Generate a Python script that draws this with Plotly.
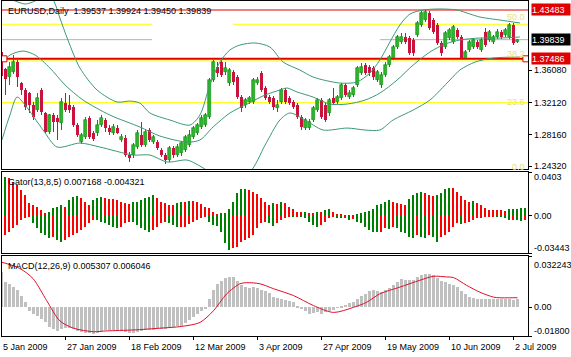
import plotly.graph_objects as go

# ---------------- data ----------------
date_labels = ["5 Jan 2009", "27 Jan 2009", "18 Feb 2009", "12 Mar 2009", "3 Apr 2009",
               "27 Apr 2009", "19 May 2009", "10 Jun 2009", "2 Jul 2009"]
date_bars = [0, 16, 32, 48, 64, 80, 96, 112, 128]

opens = [1.3832, 1.3623, 1.3525, 1.3586, 1.3709, 1.3451, 1.3365, 1.3328, 1.3181, 1.3119,
         1.3365, 1.3083, 1.2849, 1.3058, 1.3021, 1.2960, 1.3205, 1.3181, 1.3156, 1.2935,
         1.2726, 1.2788, 1.3021, 1.2837, 1.2837, 1.2935, 1.2997, 1.2898, 1.2837, 1.2898,
         1.2751, 1.2775, 1.2567, 1.2567, 1.2665, 1.2812, 1.2689, 1.2874, 1.2726, 1.2726,
         1.2628, 1.2567, 1.2505, 1.2653, 1.2567, 1.2591, 1.2628, 1.2689, 1.2788, 1.2837,
         1.2911, 1.2935, 1.3033, 1.3488, 1.3648, 1.3709, 1.3586, 1.3451, 1.3586, 1.3525,
         1.3279, 1.3181, 1.3218, 1.3218, 1.3451, 1.3574, 1.3390, 1.3279, 1.3267, 1.3144,
         1.3218, 1.3365, 1.3267, 1.3218, 1.3181, 1.3033, 1.2898, 1.2898, 1.2997, 1.3119,
         1.3242, 1.3181, 1.3083, 1.3267, 1.3218, 1.3267, 1.3427, 1.3279, 1.3304, 1.3427,
         1.3574, 1.3672, 1.3648, 1.3636, 1.3488, 1.3427, 1.3550, 1.3672, 1.3758, 1.3894,
         1.3955, 1.4017, 1.4004, 1.3980, 1.4041, 1.4164, 1.4225, 1.4311, 1.4225, 1.4164,
         1.3943, 1.3894, 1.4004, 1.3955, 1.4103, 1.4017, 1.3758, 1.3857, 1.3894, 1.3955,
         1.3857, 1.4078, 1.3980, 1.3955, 1.4017, 1.4078, 1.4041, 1.4017, 1.4164, 1.39537]
highs = [1.3955, 1.3636, 1.3709, 1.3795, 1.3734, 1.3464, 1.3390, 1.3341, 1.3218, 1.3328,
         1.3390, 1.3095, 1.3070, 1.3083, 1.3058, 1.3267, 1.3328, 1.3304, 1.3181, 1.2960,
         1.2837, 1.3033, 1.3046, 1.2861, 1.2997, 1.3058, 1.3021, 1.2935, 1.2947, 1.2935,
         1.2825, 1.2812, 1.2603, 1.2714, 1.2874, 1.2972, 1.2874, 1.2898, 1.2812, 1.2751,
         1.2653, 1.2591, 1.2677, 1.2677, 1.2702, 1.2739, 1.2812, 1.2874, 1.2923, 1.2960,
         1.3058, 1.3083, 1.3513, 1.3734, 1.3709, 1.3734, 1.3709, 1.3636, 1.3611, 1.3550,
         1.3304, 1.3267, 1.3292, 1.3513, 1.3525, 1.3599, 1.3414, 1.3304, 1.3292, 1.3242,
         1.3390, 1.3390, 1.3292, 1.3242, 1.3205, 1.3058, 1.3021, 1.3009, 1.3169, 1.3267,
         1.3267, 1.3205, 1.3267, 1.3390, 1.3304, 1.3451, 1.3451, 1.3365, 1.3414, 1.3660,
         1.3697, 1.3697, 1.3672, 1.3660, 1.3611, 1.3586, 1.3709, 1.3795, 1.3918, 1.4041,
         1.4066, 1.4066, 1.4029, 1.4004, 1.4213, 1.4336, 1.43483, 1.4330, 1.4250, 1.4189,
         1.3967, 1.4090, 1.4127, 1.4164, 1.4127, 1.4041, 1.3857, 1.3980, 1.4004, 1.3980,
         1.4004, 1.4127, 1.4103, 1.4041, 1.4115, 1.4103, 1.4127, 1.4189, 1.4189, 1.39924]
lows = [1.3390, 1.3304, 1.3427, 1.3562, 1.3402, 1.3304, 1.3119, 1.3083, 1.2997, 1.3095,
        1.3058, 1.2837, 1.2825, 1.2849, 1.2751, 1.2874, 1.3095, 1.3083, 1.2911, 1.2788,
        1.2702, 1.2763, 1.2763, 1.2739, 1.2800, 1.2911, 1.2849, 1.2812, 1.2812, 1.2825,
        1.2726, 1.2542, 1.2481, 1.2530, 1.2640, 1.2665, 1.2665, 1.2726, 1.2702, 1.2628,
        1.2542, 1.2456, 1.2481, 1.2530, 1.2542, 1.2554, 1.2603, 1.2665, 1.2763, 1.2812,
        1.2886, 1.2911, 1.3009, 1.3464, 1.3525, 1.3525, 1.3550, 1.3414, 1.3427, 1.3255,
        1.3095, 1.3144, 1.3193, 1.3193, 1.3427, 1.3341, 1.3242, 1.3193, 1.3119, 1.3095,
        1.3193, 1.3193, 1.3181, 1.3132, 1.3009, 1.2874, 1.2874, 1.2874, 1.2972, 1.3095,
        1.3009, 1.2972, 1.3046, 1.3181, 1.3193, 1.3242, 1.3279, 1.3255, 1.3279, 1.3402,
        1.3550, 1.3550, 1.3537, 1.3488, 1.3464, 1.3390, 1.3525, 1.3648, 1.3734, 1.3869,
        1.3930, 1.3930, 1.3795, 1.3783, 1.4017, 1.4139, 1.4201, 1.4103, 1.4053, 1.3918,
        1.3783, 1.3869, 1.3980, 1.3930, 1.3992, 1.37486, 1.3752, 1.3832, 1.3869, 1.3869,
        1.3832, 1.3894, 1.3955, 1.3930, 1.3992, 1.3992, 1.4017, 1.3992, 1.3918, 1.39450]
closes = [1.3537, 1.3500, 1.3648, 1.3709, 1.3525, 1.3365, 1.3156, 1.3181, 1.3033, 1.3267,
          1.3095, 1.2849, 1.3058, 1.2972, 1.2972, 1.3218, 1.3119, 1.3119, 1.2935, 1.2812,
          1.2812, 1.2997, 1.2788, 1.2763, 1.2935, 1.3021, 1.2898, 1.2849, 1.2911, 1.2837,
          1.2788, 1.2567, 1.2530, 1.2689, 1.2837, 1.2689, 1.2849, 1.2751, 1.2788, 1.2653,
          1.2567, 1.2505, 1.2653, 1.2567, 1.2665, 1.2714, 1.2788, 1.2812, 1.2898, 1.2935,
          1.3021, 1.3058, 1.3488, 1.3709, 1.3574, 1.3550, 1.3636, 1.3611, 1.3464, 1.3279,
          1.3144, 1.3242, 1.3267, 1.3488, 1.3488, 1.3365, 1.3267, 1.3218, 1.3156, 1.3181,
          1.3365, 1.3218, 1.3205, 1.3156, 1.3033, 1.2911, 1.2997, 1.2972, 1.3144, 1.3242,
          1.3033, 1.2997, 1.3242, 1.3205, 1.3279, 1.3427, 1.3304, 1.3328, 1.3390, 1.3636,
          1.3648, 1.3574, 1.3574, 1.3525, 1.3586, 1.3550, 1.3672, 1.3771, 1.3894, 1.4017,
          1.4017, 1.3955, 1.3820, 1.3820, 1.4189, 1.4311, 1.4324, 1.4127, 1.4078, 1.3943,
          1.3820, 1.4066, 1.4103, 1.4139, 1.4017, 1.3758, 1.3832, 1.3955, 1.3980, 1.3894,
          1.3980, 1.3918, 1.4078, 1.4017, 1.4078, 1.4017, 1.4103, 1.4164, 1.3943, 1.39839]

# Bollinger bands, read at sample bars
bb_up_x = [0.9, 3.4, 5.9, 8.4, 10.9, 12.9, 14.6, 16.6, 19.6, 23.9, 28.9, 32.1, 34.6, 37.1, 42.1,
           47.1, 49.6, 52.1, 54.6, 57.1, 59.6, 63.4, 67.1, 70.4, 74.6, 77.9, 84.6, 88.9, 92.1,
           94.6, 97.1, 99.6, 102.1, 105.4, 109.6, 113.9, 117.1, 119.6, 124.6, 129.6]
bb_up_v = [1.4508, 1.4459, 1.4422, 1.4459, 1.4545, 1.4471, 1.4250, 1.3980, 1.3636, 1.3365,
           1.3218, 1.3230, 1.3205, 1.3083, 1.2997, 1.2935, 1.3058, 1.3427, 1.3709, 1.3857,
           1.3918, 1.3943, 1.3894, 1.3709, 1.3611, 1.3525, 1.3451, 1.3464, 1.3574, 1.3734,
           1.3955, 1.4164, 1.4299, 1.4348, 1.4361, 1.4348, 1.4299, 1.4262, 1.4225, 1.4189]
bb_md_x = [0.4, 2.1, 5.4, 8.4, 12.1, 15.9, 20.4, 27.1, 34.6, 39.6, 46.4, 49.6, 52.9, 57.1, 61.4,
           65.9, 69.6, 71.4, 73.9, 77.9, 82.1, 86.4, 90.9, 94.6, 98.9, 102.9, 107.1, 110.9,
           114.6, 119.6, 124.6, 129.6]
bb_md_v = [1.3709, 1.3795, 1.3844, 1.3795, 1.3636, 1.3427, 1.3242, 1.3058, 1.2911, 1.2800,
           1.2726, 1.2751, 1.2911, 1.3083, 1.3193, 1.3304, 1.3365, 1.3390, 1.3341, 1.3279,
           1.3193, 1.3193, 1.3242, 1.3328, 1.3488, 1.3672, 1.3832, 1.3930, 1.3980, 1.4004,
           1.4004, 1.4017]
bb_lo_x = [0.1, 2.1, 3.9, 5.9, 10.4, 13.9, 19.6, 24.6, 32.9, 37.1, 41.4, 46.4, 49.6, 52.1, 57.1,
           62.1, 65.9, 69.6, 72.1, 75.9, 80.4, 86.4, 90.9, 94.6, 97.9, 102.9, 107.1, 112.1,
           114.6, 118.4, 122.9, 129.6]
bb_lo_v = [1.2751, 1.3058, 1.3279, 1.3181, 1.2874, 1.2665, 1.2714, 1.2665, 1.2567, 1.2567,
           1.2481, 1.2505, 1.2432, 1.2358, 1.2260, 1.2358, 1.2689, 1.2997, 1.3083, 1.2997,
           1.2874, 1.2898, 1.2874, 1.2874, 1.2997, 1.3119, 1.3242, 1.3488, 1.3611, 1.3709,
           1.3758, 1.3771]

# Gator oscillator (13,8,5)
gator_up = [0.0299, 0.0360, 0.0345, 0.0314, 0.0283, 0.0237, 0.0191, 0.0114, 0.0099, 0.0083,
            0.0053, 0.0022, 0.0037, 0.0068, 0.0083, 0.0099, 0.0083, 0.0145, 0.0175, 0.0180,
            0.0161, 0.0129, 0.0099, 0.0145, 0.0161, 0.0175, 0.0161, 0.0158, 0.0155, 0.0145,
            0.0129, 0.0114, 0.0112, 0.0129, 0.0130, 0.0145, 0.0161, 0.0175, 0.0191, 0.0161,
            0.0129, 0.0114, 0.0099, 0.0099, 0.0114, 0.0129, 0.0125, 0.0137, 0.0135, 0.0125,
            0.0106, 0.0083, 0.0068, 0.0037, 0.0012, 0.0022, 0.0025, 0.0059, 0.0129, 0.0206,
            0.0247, 0.0250, 0.0237, 0.0222, 0.0200, 0.0160, 0.0129, 0.0099, 0.0114, 0.0110,
            0.0129, 0.0114, 0.0083, 0.0062, 0.0037, 0.0034, 0.0035, 0.0028, 0.0022, 0.0037,
            0.0036, 0.0053, 0.0059, 0.0037, 0.0015, 0.0012, 0.0006, 0.0002, 0.0003, 0.0015,
            0.0028, 0.0037, 0.0046, 0.0059, 0.0099, 0.0105, 0.0129, 0.0145, 0.0129, 0.0114,
            0.0110, 0.0099, 0.0151, 0.0191, 0.0206, 0.0222, 0.0213, 0.0191, 0.0185, 0.0191,
            0.0213, 0.0247, 0.0259, 0.0253, 0.0222, 0.0180, 0.0145, 0.0129, 0.0132, 0.0114,
            0.0099, 0.0068, 0.0053, 0.0050, 0.0049, 0.0048, 0.0047, 0.0059, 0.0060, 0.0062,
            0.0068, 0.007168]
gator_dn = [-0.0270, -0.0178, -0.0148, -0.0116, -0.0086, -0.0040, -0.0024, -0.0009, -0.0070, -0.0116,
            -0.0163, -0.0178, -0.0209, -0.0194, -0.0224, -0.0240, -0.0224, -0.0194, -0.0178, -0.0163,
            -0.0132, -0.0101, -0.0070, -0.0040, -0.0042, -0.0055, -0.0070, -0.0086, -0.0101, -0.0116,
            -0.0101, -0.0070, -0.0055, -0.0056, -0.0086, -0.0116, -0.0132, -0.0148, -0.0132, -0.0101,
            -0.0070, -0.0055, -0.0070, -0.0086, -0.0101, -0.0101, -0.0101, -0.0077, -0.0055, -0.0040,
            -0.0024, -0.0009, -0.0055, -0.0086, -0.0095, -0.0148, -0.0256, -0.0318, -0.0302, -0.0287,
            -0.0240, -0.0224, -0.0209, -0.0178, -0.0116, -0.0070, -0.0055, -0.0070, -0.0095, -0.0070,
            -0.0040, -0.0024, -0.0009, -0.0010, -0.0003, -0.0005, -0.0024, -0.0055, -0.0086, -0.0101,
            -0.0086, -0.0055, -0.0024, -0.0009, -0.0024, -0.0025, -0.0024, -0.0040, -0.0033, -0.0055,
            -0.0070, -0.0101, -0.0132, -0.0148, -0.0150, -0.0148, -0.0116, -0.0126, -0.0107, -0.0116,
            -0.0148, -0.0163, -0.0194, -0.0209, -0.0178, -0.0194, -0.0209, -0.0178, -0.0200, -0.0240,
            -0.0194, -0.0178, -0.0148, -0.0101, -0.0070, -0.0075, -0.0070, -0.0055, -0.0040, -0.0024,
            -0.0024, -0.0009, -0.0009, -0.0003, -0.0009, -0.0015, -0.0024, -0.0040, -0.0040, -0.0041,
            -0.0046, -0.004321]

# MACD (12,26,9)
macd_main = [0.0223, 0.0159, 0.0148, 0.0127, 0.0106, 0.0074, 0.0032, -0.0021, -0.0042, -0.0053,
             -0.0074, -0.0095, -0.0123, -0.0138, -0.0148, -0.0138, -0.0127, -0.0131, -0.0138, -0.0148,
             -0.0155, -0.0159, -0.0159, -0.0165, -0.0159, -0.0148, -0.0144, -0.0142, -0.0140, -0.0144,
             -0.0148, -0.0155, -0.0163, -0.0163, -0.0155, -0.0148, -0.0144, -0.0140, -0.0140, -0.0138,
             -0.0138, -0.0134, -0.0131, -0.0123, -0.0117, -0.0117, -0.0100, -0.0082, -0.0062, -0.0042,
             -0.0025, -0.0011, 0.0053, 0.0106, 0.0148, 0.0165, 0.0184, 0.0191, 0.0191, 0.0165,
             0.0138, 0.0127, 0.0123, 0.0127, 0.0123, 0.0110, 0.0102, 0.0089, 0.0068, 0.0057,
             0.0053, 0.0047, 0.0038, 0.0032, 0.0011, -0.0011, -0.0021, -0.0042, -0.0038, -0.0032,
             -0.0042, -0.0032, -0.0021, -0.0017, -0.0004, 0.0011, 0.0017, 0.0025, 0.0032, 0.0053,
             0.0074, 0.0085, 0.0102, 0.0106, 0.0102, 0.0098, 0.0106, 0.0123, 0.0138, 0.0159,
             0.0180, 0.0170, 0.0170, 0.0174, 0.0191, 0.0201, 0.0212, 0.0208, 0.0201, 0.0185,
             0.0165, 0.0159, 0.0148, 0.0138, 0.0127, 0.0102, 0.0085, 0.0068, 0.0059, 0.0053,
             0.0051, 0.0053, 0.0053, 0.0051, 0.0053, 0.0053, 0.0051, 0.0053, 0.0049, 0.005307]
sig_x = [0, 4.6, 7.9, 11.3, 14.6, 18, 23, 26.3, 33, 39.6, 45, 49.6, 53, 56.3, 59.6, 61.3, 64.6,
         68, 73, 78, 83, 88, 91.3, 94.6, 99.6, 104.6, 108, 111.3, 113, 116.3, 119.6, 123, 124.6,
         127, 129]
sig_v = [0.0284, 0.0244, 0.0180, 0.0042, -0.0085, -0.0131, -0.0153, -0.0148, -0.0142, -0.0131,
         -0.0120, -0.0095, -0.0021, 0.0085, 0.0148, 0.0155, 0.0148, 0.0117, 0.0074, 0.0011,
         -0.0032, 0.0000, 0.0032, 0.0085, 0.0127, 0.0170, 0.0195, 0.0191, 0.0187, 0.0138,
         0.0095, 0.0064, 0.0060, 0.0060, 0.006046]

price_ticks = [1.36080, 1.32120, 1.28160, 1.24320]
level_high = 1.43483
level_low = 1.37486
bid = 1.39839
fib_levels = {"50.0": 1.4173, "38.2": 1.3722, "23.6": 1.3210, "0.0": 1.2432}

# ---------------- figure ----------------
W, H = 571, 357
BULL = "#2DB52D"
BULL_LINE = "#0A8A0A"
BEAR = "#C8143C"
BB = "#3A9A72"
G_UP = "#008000"
G_DN = "#FF0000"

n = len(closes)
idx = list(range(n))
fig = go.Figure()

# candles: wicks + bodies
up_i = [i for i in idx if closes[i] >= opens[i]]
dn_i = [i for i in idx if closes[i] < opens[i]]
for sel, col in ((up_i, BULL_LINE), (dn_i, BEAR)):
    fig.add_trace(go.Bar(x=sel, y=[highs[i] - lows[i] for i in sel], base=[lows[i] for i in sel],
                         width=0.25, marker=dict(color=col, line=dict(width=0)),
                         xaxis="x", yaxis="y", hoverinfo="skip"))
fig.add_trace(go.Bar(x=up_i, y=[max(closes[i] - opens[i], 0.0003) for i in up_i],
                     base=[opens[i] for i in up_i], width=0.72,
                     marker=dict(color=BULL, line=dict(width=0.6, color=BULL_LINE)),
                     xaxis="x", yaxis="y", hoverinfo="skip"))
fig.add_trace(go.Bar(x=dn_i, y=[max(opens[i] - closes[i], 0.0003) for i in dn_i],
                     base=[closes[i] for i in dn_i], width=0.72,
                     marker=dict(color=BEAR, line=dict(width=0)),
                     xaxis="x", yaxis="y", hoverinfo="skip"))

# Bollinger bands
for bx, bv in ((bb_up_x, bb_up_v), (bb_md_x, bb_md_v), (bb_lo_x, bb_lo_v)):
    fig.add_trace(go.Scatter(x=bx, y=bv, mode="lines", line=dict(color=BB, width=1, shape="spline", smoothing=0.8),
                             xaxis="x", yaxis="y", hoverinfo="skip"))

# Gator: colour rule = green when the bar grew versus the previous one, red otherwise
g_idx = list(range(len(gator_up)))
up_grow = [i for i in g_idx if i > 0 and gator_up[i] > gator_up[i - 1]]
up_fall = [i for i in g_idx if i not in up_grow]
dn_grow = [i for i in g_idx if i > 0 and abs(gator_dn[i]) > abs(gator_dn[i - 1])]
dn_fall = [i for i in g_idx if i not in dn_grow]
for sel, vals, col in ((up_grow, gator_up, G_UP), (up_fall, gator_up, G_DN),
                       (dn_grow, gator_dn, G_UP), (dn_fall, gator_dn, G_DN)):
    fig.add_trace(go.Bar(x=sel, y=[vals[i] for i in sel], width=0.4,
                         marker=dict(color=col, line=dict(width=0)),
                         xaxis="x2", yaxis="y2", hoverinfo="skip"))

# MACD
fig.add_trace(go.Bar(x=idx, y=macd_main, width=0.72, marker=dict(color="#C0C0C0", line=dict(width=0)),
                     xaxis="x3", yaxis="y3", hoverinfo="skip"))
fig.add_trace(go.Scatter(x=sig_x, y=sig_v, mode="lines",
                         line=dict(color="#E0102A", width=1, shape="spline", smoothing=0.8),
                         xaxis="x3", yaxis="y3", hoverinfo="skip"))

# ---------------- axes ----------------
px_per_bar = 4.0
x0px, x1px = 2, 528
xr = [(x0px - 1.5) / px_per_bar, (x1px - 1.5) / px_per_bar]
xdom = [x0px / W, x1px / W]


def ydom(top, bot):
    return [1 - bot / H, 1 - top / H]


axis_common = dict(showgrid=False, zeroline=False, showline=True, mirror=True,
                   linecolor="black", linewidth=1, fixedrange=True)
fig.update_layout(
    width=W, height=H, margin=dict(l=0, r=0, t=0, b=0),
    paper_bgcolor="white", plot_bgcolor="white", showlegend=False,
    barmode="overlay", bargap=0, hovermode=False,
    xaxis=dict(domain=xdom, range=xr, anchor="y", showticklabels=False, **axis_common),
    xaxis2=dict(domain=xdom, range=xr, anchor="y2", matches="x", showticklabels=False, **axis_common),
    xaxis3=dict(domain=xdom, range=xr, anchor="y3", matches="x", showticklabels=False,
                ticks="outside", ticklen=3, tickcolor="black", tickvals=date_bars, **axis_common),
    yaxis=dict(domain=ydom(1, 169), range=[1.23951, 1.44588], anchor="x", side="right",
               showticklabels=False, ticks="outside", ticklen=3, tickcolor="black",
               tickvals=price_ticks, **axis_common),
    yaxis2=dict(domain=ydom(172, 253), range=[-0.03443, 0.0403], anchor="x2", side="right",
                showticklabels=False, ticks="outside", ticklen=3, tickcolor="black",
                tickvals=[0.0403, 0.0, -0.03443], **axis_common),
    yaxis3=dict(domain=ydom(256, 336), range=[-0.018, 0.032243], anchor="x3", side="right",
                showticklabels=False, ticks="outside", ticklen=3, tickcolor="black",
                tickvals=[0.032243, 0.0, -0.018], **axis_common),
)

# ---------------- lines / objects ----------------
shapes = []


def hline(y, color, width=1, xa=None, xb=None):
    if xa is None:
        shapes.append(dict(type="line", xref="x domain", x0=0, x1=1, yref="y", y0=y, y1=y,
                           line=dict(color=color, width=width), layer="below"))
    else:
        shapes.append(dict(type="line", xref="x", x0=xa, x1=xb, yref="y", y0=y, y1=y,
                           line=dict(color=color, width=width), layer="below"))


gap_a = (152 - 1.5) / px_per_bar
gap_b = (233 - 1.5) / px_per_bar
gray_b = (380 - 1.5) / px_per_bar
hline(bid, "#B4B4B4", 1, xr[0], gap_a)
hline(bid, "#B4B4B4", 1, gray_b, xr[1])
hline(fib_levels["50.0"], "#FFFF00", 1, xr[0], gap_a)
hline(fib_levels["50.0"], "#FFFF00", 1, gap_b, xr[1])
hline(fib_levels["38.2"], "#FFFF00", 1)
hline(fib_levels["23.6"], "#FFFF00", 1)
hline(level_high, "#E00000", 1)
hline(level_low, "#E00000", 2)
for bx in (0.6, 131.1):
    shapes.append(dict(type="rect", xref="x", yref="y", xsizemode="pixel", ysizemode="pixel",
                       xanchor=bx, yanchor=level_low, x0=-3, x1=3, y0=-3, y1=3,
                       line=dict(color="#E00000", width=1), fillcolor="white"))
fig.update_layout(shapes=shapes)

# ---------------- text ----------------
FONT = "Liberation Sans, Arial, sans-serif"
ann = []


def txt(x, y, s, xref="paper", yref="paper", color="black", xanchor="left", bg=None, size=9):
    d = dict(x=x, y=y, xref=xref, yref=yref, text=s, showarrow=False, xanchor=xanchor,
             yanchor="middle", font=dict(family=FONT, size=size, color=color))
    if bg:
        d.update(bgcolor=bg, width=38, height=11, align="left", borderpad=0)
    ann.append(d)


txt(6 / W, 1 - 11 / H, "EURUSD,Daily  1.39537 1.39924 1.39450 1.39839")
txt(6 / W, 1 - 182 / H, "Gator(13,8,5) 0.007168 -0.004321")
txt(6 / W, 1 - 266 / H, "MACD(12,26,9) 0.005307 0.006046")

lx = 532 / W
for v in price_ticks:
    txt(lx, v, "%.5f" % v, yref="y")
txt(531 / W, level_high, "%.5f" % level_high, yref="y", color="white", bg="#E00000")
txt(531 / W, bid, "%.5f" % bid, yref="y", color="white", bg="black")
txt(531 / W, level_low, "%.5f" % level_low, yref="y", color="white", bg="#E00000")

txt(lx, 1 - 177 / H, "0.0403")
txt(lx, 0.0, "0.00", yref="y2")
txt(lx, 1 - 248 / H, "-0.03443")
txt(lx, 1 - 264.5 / H, "0.032243")
txt(lx, 0.0, "0.00", yref="y3")
txt(lx, 1 - 330.5 / H, "-0.01800")

FIB_COL = "#E8E080"
txt(527 / W, 1 - 16.5 / H, "50.0", color=FIB_COL, xanchor="right")
txt(527 / W, 1 - 53.5 / H, "38.2", color=FIB_COL, xanchor="right")
txt(527 / W, 1 - 101.5 / H, "23.6", color=FIB_COL, xanchor="right")
txt(527 / W, 1 - 166.5 / H, "0.0", color=FIB_COL, xanchor="right")

# date labels: text starts at the bar's tick (bar i sits at 1.5 + 4*i px)
for b, s in zip(date_bars, date_labels):
    txt((0.5 + px_per_bar * b) / W, 1 - 346.5 / H, s)
fig.update_layout(annotations=ann)

fig.write_html("out.html", config={"displayModeBar": False})

# remove the default page margin so the 571x357 figure fills the window exactly
with open("out.html", "r", encoding="utf-8") as f:
    page = f.read()
page = page.replace("<head>", "<head><style>html,body{margin:0;padding:0;overflow:hidden;}</style>", 1)
with open("out.html", "w", encoding="utf-8") as f:
    f.write(page)
